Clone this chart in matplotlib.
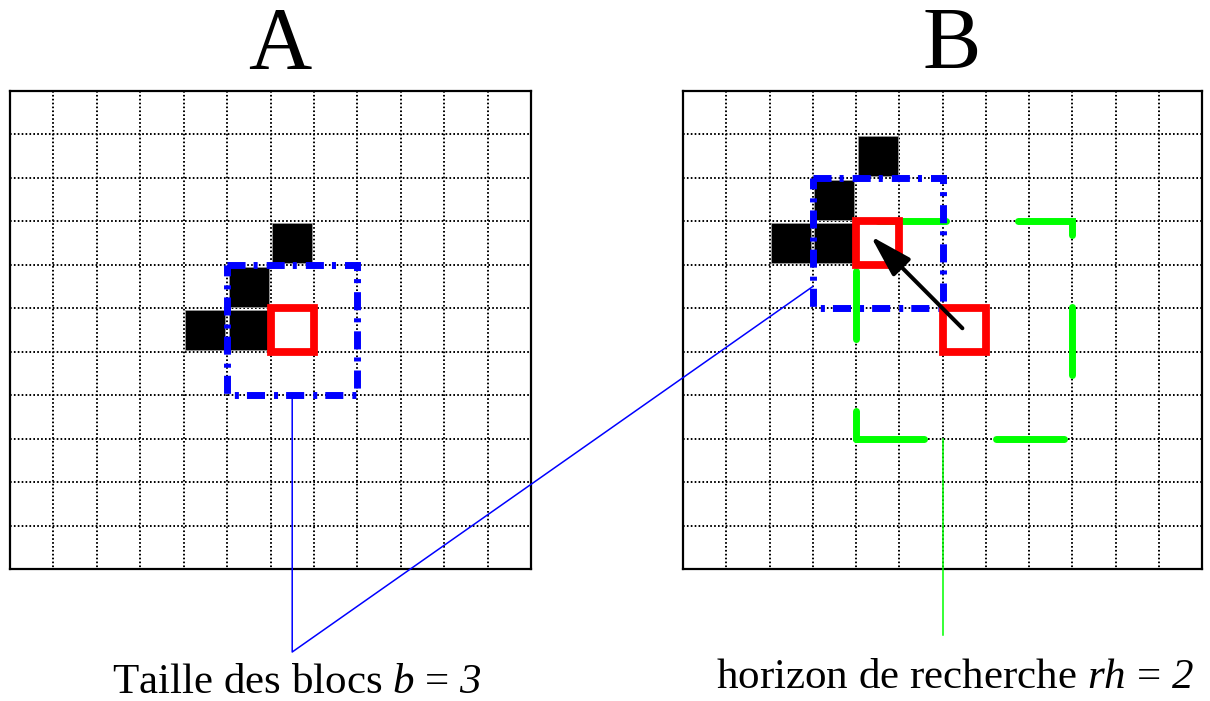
import matplotlib
matplotlib.use('Agg')
import matplotlib.pyplot as plt
from matplotlib.patches import Rectangle
import numpy as np

plt.rcParams['font.family'] = ['Liberation Serif', 'DejaVu Serif']
plt.rcParams['mathtext.fontset'] = 'custom'
plt.rcParams['mathtext.rm'] = 'Liberation Serif:italic'
plt.rcParams['mathtext.it'] = 'Liberation Serif:italic'
plt.rcParams['lines.scale_dashes'] = False

N_COLS = 12
N_ROWS = 11

# panel A: current block around the pixel
black_A = [(6, 3), (5, 4), (4, 5), (5, 5)]
red_A = [(6, 5)]
block_A = (6, 5)
# panel B: best match found inside the search window
black_B = [(4, 1), (3, 2), (2, 3), (3, 3)]
red_B = [(4, 3), (6, 5)]
block_B = (4, 3)
search_center = (6, 5)
b = 3
rh = 2

titles = ['A', 'B']
label_A = r'Taille des blocs $b$ = $3$'
label_B = r'horizon de recherche $rh$ = $2$'

BLUE = '#0000ff'
RED = '#ff0000'
GREEN = '#00ff00'

W, H = 1210, 701
fig = plt.figure(figsize=(W / 100, H / 100), dpi=100)
axA = fig.add_axes([10 / W, 1 - 569 / H, 521 / W, 478 / H])
axB = fig.add_axes([683 / W, 1 - 569 / H, 519 / W, 478 / H])


def draw_grid(ax, black, red, block):
    ax.set_xlim(0, N_COLS)
    ax.set_ylim(N_ROWS, 0)
    ax.set_xticks([])
    ax.set_yticks([])
    for s in ax.spines.values():
        s.set_linewidth(1.6)
    ax.vlines(np.arange(1, N_COLS), 0, N_ROWS, colors='k', lw=1.4,
              linestyles=[(0, (1.2, 1.6))], zorder=1)
    ax.hlines(np.arange(1, N_ROWS), 0, N_COLS, colors='k', lw=1.4,
              linestyles=[(0, (1.2, 1.6))], zorder=1)
    for c, r in black:
        ax.add_patch(Rectangle((c + 0.04, r + 0.04), 0.92, 0.92, fc='k',
                               ec='#999999', lw=0.6, zorder=3))
    half = b // 2
    bc, br = block
    ax.add_patch(Rectangle((bc - half, br - half), b, b, fill=False, ec=BLUE,
                           lw=5, ls=(0, (13, 5.8, 2.9, 6.5)), zorder=4))
    for c, r in red:
        ax.add_patch(Rectangle((c, r), 1, 1, fill=False, ec=RED, lw=5.6,
                               joinstyle='miter', zorder=5))


draw_grid(axA, black_A, red_A, block_A)
draw_grid(axB, black_B, red_B, block_B)

# search window (rh cells around the centre), dashed green
sc, sr = search_center
cl, cr = sc - rh, sc + rh + 1
tp, bt = sr - rh, sr + rh + 1
axB.plot([cl, cr, cr, cl, cl], [bt, bt, tp, tp, bt], color=GREEN, lw=5,
         ls=(0, (49, 51.8)), dash_capstyle='round', dash_joinstyle='miter',
         zorder=3.5)

# displacement vector
tail = (sc + 0.5, sr + 0.5)
head = (block_B[0] + 0.5, block_B[1] + 0.5)
tip = (head[0] + 0.08 * (head[0] - tail[0]), head[1] + 0.08 * (head[1] - tail[1]))
start = (tail[0] - 0.02 * (tail[0] - head[0]), tail[1] - 0.02 * (tail[1] - head[1]))
axB.annotate('', xy=tip, xytext=start, zorder=6,
             arrowprops=dict(arrowstyle='-|>,head_length=1.3,head_width=0.38',
                             mutation_scale=20, lw=2.9, color='k',
                             shrinkA=0, shrinkB=0))

# overlay in pixel coords for titles, labels and connectors
ov = fig.add_axes([0, 0, 1, 1], zorder=10)
ov.set_xlim(0, W)
ov.set_ylim(H, 0)
ov.axis('off')


def to_px(ax, x, y):
    return ov.transData.inverted().transform(ax.transData.transform((x, y)))


p1 = to_px(axA, block_A[0] + 0.5, block_A[1] + b // 2 + 1)
p3 = to_px(axB, block_B[0] - b // 2, block_B[1] + 1.5)
ov.plot([p1[0], p1[0], p3[0]], [p1[1], 652, p3[1]], color=BLUE, lw=1.1)

g1 = to_px(axB, sc, bt)
ov.plot([g1[0], g1[0]], [g1[1], 635], color=GREEN, lw=1.1)

ov.text(280, 68, titles[0], ha='center', va='baseline', fontsize=63)
ov.text(952, 68, titles[1], ha='center', va='baseline', fontsize=63)
ov.text(297, 693, label_A, ha='center', va='baseline', fontsize=31)
ov.text(955, 688, label_B, ha='center', va='baseline', fontsize=31)

fig.savefig('out.png', dpi=100)
